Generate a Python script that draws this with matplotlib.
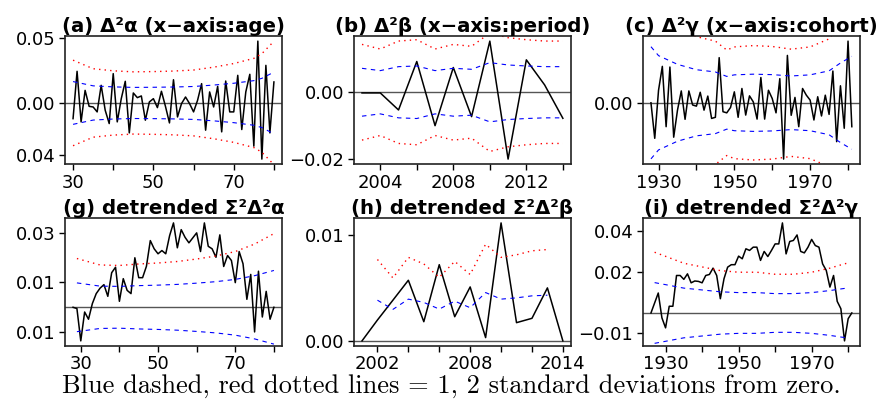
import matplotlib.pyplot as plt
import numpy as np

plt.rcParams['font.family'] = 'DejaVu Sans'
plt.rcParams['axes.unicode_minus'] = True

# (a) second differences of age effects
ages = np.arange(30, 81)
d2_alpha = [-0.0121, 0.0244, -0.0146, 0.0097, -0.0026, -0.0031, -0.0069, 0.0136, -0.0056, -0.0159,
            0.0226, -0.0146, 0.0033, 0.0167, -0.0231, 0.0077, 0.0041, 0.0054, -0.0133, 0.0008,
            0.0033, -0.0036, 0.0090, -0.0026, -0.0154, 0.0179, -0.0108, -0.0005, 0.0046, -0.0005,
            -0.0069, 0.0021, 0.0149, -0.0210, 0.0085, -0.0031, 0.0128, -0.0223, 0.0169, -0.0069,
            -0.0069, 0.0213, -0.0205, 0.0085, 0.0221, -0.0333, 0.0477, -0.0433, 0.0290, -0.0231,
            0.0162]
sd_alpha_x = [30, 35, 40, 45, 50, 55, 60, 65, 70, 75, 77, 80]
sd_alpha = [0.0165, 0.0132, 0.0124, 0.0120, 0.0121, 0.0123, 0.0127, 0.0138, 0.0152, 0.0172, 0.0190, 0.0238]

# (b) second differences of period effects
periods = np.arange(2003, 2015)
d2_beta = [-0.0002, -0.0002, -0.0053, 0.0092, -0.0100, 0.0074, -0.0073, 0.0153, -0.0200, 0.0097,
           0.0022, -0.0078]
sd_beta = [0.00716, 0.00647, 0.00766, 0.00786, 0.00647, 0.00716, 0.00687, 0.00886, 0.00816, 0.00786,
           0.00766, 0.00766]

# (c) second differences of cohort effects
cohorts = np.arange(1928, 1982)
d2_gamma = [0.0, -0.0159, 0.0056, 0.0163, -0.0107, 0.0160, -0.0154, -0.0033, 0.0053, -0.0074,
            0.0053, -0.0010, -0.0015, 0.0047, -0.0033, 0.0030, -0.0070, -0.0065, 0.0202, -0.0040,
            -0.0045, -0.0021, 0.0049, -0.0065, 0.0064, -0.0055, 0.0031, 0.0004, -0.0073, 0.0113,
            -0.0073, 0.0056, 0.0019, -0.0045, 0.0108, -0.0252, 0.0212, -0.0056, 0.0024, -0.0107,
            0.0064, 0.0034, 0.0012, -0.0077, 0.0027, -0.0059, 0.0034, -0.0052, 0.0142, -0.0174,
            0.0076, -0.0114, 0.0276, -0.0107]
sd_gamma_x = [1928, 1930, 1935, 1940, 1945, 1948, 1950, 1955, 1960, 1965, 1970, 1975, 1978, 1981]
sd_gamma = [0.0251, 0.0211, 0.0172, 0.0148, 0.0138, 0.0118, 0.0125, 0.0128, 0.0126, 0.0120,
            0.0125, 0.0143, 0.0178, 0.0208]

# (g) detrended double sums, age
ages_g = np.arange(28, 81)
dt_alpha = [0.0, -0.0005, -0.0135, -0.0019, -0.0048, 0.0015, 0.0055, 0.0077, 0.0091, 0.0044,
            0.0139, 0.0161, 0.0024, 0.0115, 0.0068, 0.0055, 0.0199, 0.0119, 0.0119, 0.0165,
            0.0268, 0.0235, 0.0215, 0.0228, 0.0215, 0.0288, 0.0339, 0.0239, 0.0312, 0.0281,
            0.0259, 0.0279, 0.0299, 0.0224, 0.0339, 0.0245, 0.0235, 0.0201, 0.0291, 0.0164,
            0.0208, 0.0188, 0.0099, 0.0224, 0.0175, 0.0032, 0.0132, -0.0099, 0.0145, -0.0039,
            0.0064, -0.0048, 0.0]
sd_dt_alpha_x = [29, 35, 40, 45, 50, 55, 60, 65, 70, 75, 80]
sd_dt_alpha = [0.0098, 0.0085, 0.0084, 0.0087, 0.0089, 0.0092, 0.0097, 0.0103, 0.0112, 0.0127, 0.0148]

# (h) detrended double sums, period
periods_h = np.arange(2001, 2015)
dt_beta = [0.0, 0.00197, 0.00384, 0.00572, 0.00181, 0.00719, 0.00228, 0.00509, 0.00031, 0.01113,
           0.00172, 0.00213, 0.00500, 0.0]
sd_dt_beta_x = np.arange(2002, 2014)
sd_dt_beta = [0.00384, 0.00297, 0.00394, 0.00363, 0.00300, 0.00375, 0.00313, 0.00456, 0.00394,
              0.00406, 0.00425, 0.00431]

# (i) detrended double sums, cohort
cohorts_i = np.arange(1926, 1982)
dt_gamma = [0.0, 0.0049, 0.0098, -0.0024, -0.0073, 0.0033, 0.0033, 0.0184, 0.0184, 0.0165,
            0.0192, 0.0148, 0.0157, 0.0155, 0.0148, 0.0184, 0.0189, 0.0220, 0.0184, 0.0070,
            0.0168, 0.0225, 0.0237, 0.0237, 0.0279, 0.0266, 0.0315, 0.0307, 0.0323, 0.0323,
            0.0258, 0.0302, 0.0277, 0.0307, 0.0339, 0.0339, 0.0442, 0.0290, 0.0351, 0.0356,
            0.0383, 0.0302, 0.0295, 0.0323, 0.0361, 0.0331, 0.0323, 0.0241, 0.0209, 0.0127,
            0.0184, 0.0057, 0.0021, -0.0137, -0.0028, 0.0]
sd_dt_gamma_x = [1927, 1930, 1935, 1940, 1945, 1950, 1955, 1960, 1965, 1970, 1975, 1978, 1980]
sd_dt_gamma = [0.0149, 0.0139, 0.0122, 0.0113, 0.0104, 0.0100, 0.0100, 0.0095, 0.0095, 0.0100,
               0.0110, 0.0118, 0.0123]

titles = ['(a) Δ²α (x−axis:age)', '(b) Δ²β (x−axis:period)', '(c) Δ²γ (x−axis:cohort)',
          '(g) detrended Σ²Δ²α', '(h) detrended Σ²Δ²β', '(i) detrended Σ²Δ²γ']

panels = [
    (ages, d2_alpha, sd_alpha_x, sd_alpha),
    (periods, d2_beta, periods, sd_beta),
    (cohorts, d2_gamma, sd_gamma_x, sd_gamma),
    (ages_g, dt_alpha, sd_dt_alpha_x, sd_dt_alpha),
    (periods_h, dt_beta, sd_dt_beta_x, sd_dt_beta),
    (cohorts_i, dt_gamma, sd_dt_gamma_x, sd_dt_gamma),
]

xticks = [np.arange(30, 81, 10), np.arange(2004, 2015, 2), np.arange(1930, 1981, 10),
          np.arange(30, 81, 10), np.arange(2002, 2015, 2), np.arange(1930, 1981, 10)]
xlabels = [['30', '', '50', '', '70', ''],
           ['2004', '', '2008', '', '2012', ''],
           ['1930', '', '1950', '', '1970', ''],
           ['30', '', '50', '', '70', ''],
           ['2002', '', '', '2008', '', '', '2014'],
           ['1930', '', '1950', '', '1970', '']]
# the left-most minus signs are cut off in the original
yticks = [[0.05, 0.0, -0.04], [0.0, -0.02], [0.0], [0.03, 0.01, -0.01], [0.01, 0.0], [0.04, 0.02, -0.01]]
ylabels = [['0.05', '0.00', '0.04'], ['0.00', '−0.02'], ['0.00'], ['0.03', '0.01', '0.01'],
           ['0.01', '0.00'], ['0.04', '0.02', '−0.01']]

fig, axes = plt.subplots(2, 3, figsize=(8.81, 4.09), dpi=100)
plt.subplots_adjust(left=0.0738, right=0.976, bottom=0.155, top=0.911, wspace=0.332, hspace=0.427)

for ax, (x, y, sx, sd), title, xt, xl, yt, yl in zip(axes.flat, panels, titles, xticks, xlabels, yticks, ylabels):
    sd = np.array(sd)
    ax.plot(x, y, color='black', lw=1.1)
    ax.margins(x=0.04, y=0.04)
    ax.axhline(0, color='#555555', lw=1.0, zorder=1)
    ax.plot(sx, sd, color='blue', lw=0.8, ls=(0, (4, 4)), scalex=False, scaley=False)
    ax.plot(sx, -sd, color='blue', lw=0.8, ls=(0, (4, 4)), scalex=False, scaley=False)
    ax.plot(sx, 2 * sd, color='red', lw=1.0, ls=(0, (1, 3)), scalex=False, scaley=False)
    ax.plot(sx, -2 * sd, color='red', lw=1.0, ls=(0, (1, 3)), scalex=False, scaley=False)
    ax.set_xticks(xt)
    ax.set_xticklabels(xl)
    ax.set_yticks(yt)
    ax.set_yticklabels(yl)
    ax.tick_params(direction='out', length=4, width=1, labelsize=13, pad=3)
    for s in ax.spines.values():
        s.set_linewidth(1.2)
        s.set_color('#222222')
    ax.set_title(title, fontsize=14.2, fontweight='bold', pad=3)

fig.text(0.512, 0.04, 'Blue dashed, red dotted lines = 1, 2 standard deviations from zero.',
         family='cmr10', fontsize=19, ha='center', va='baseline')

plt.savefig('out.png', dpi=100)
